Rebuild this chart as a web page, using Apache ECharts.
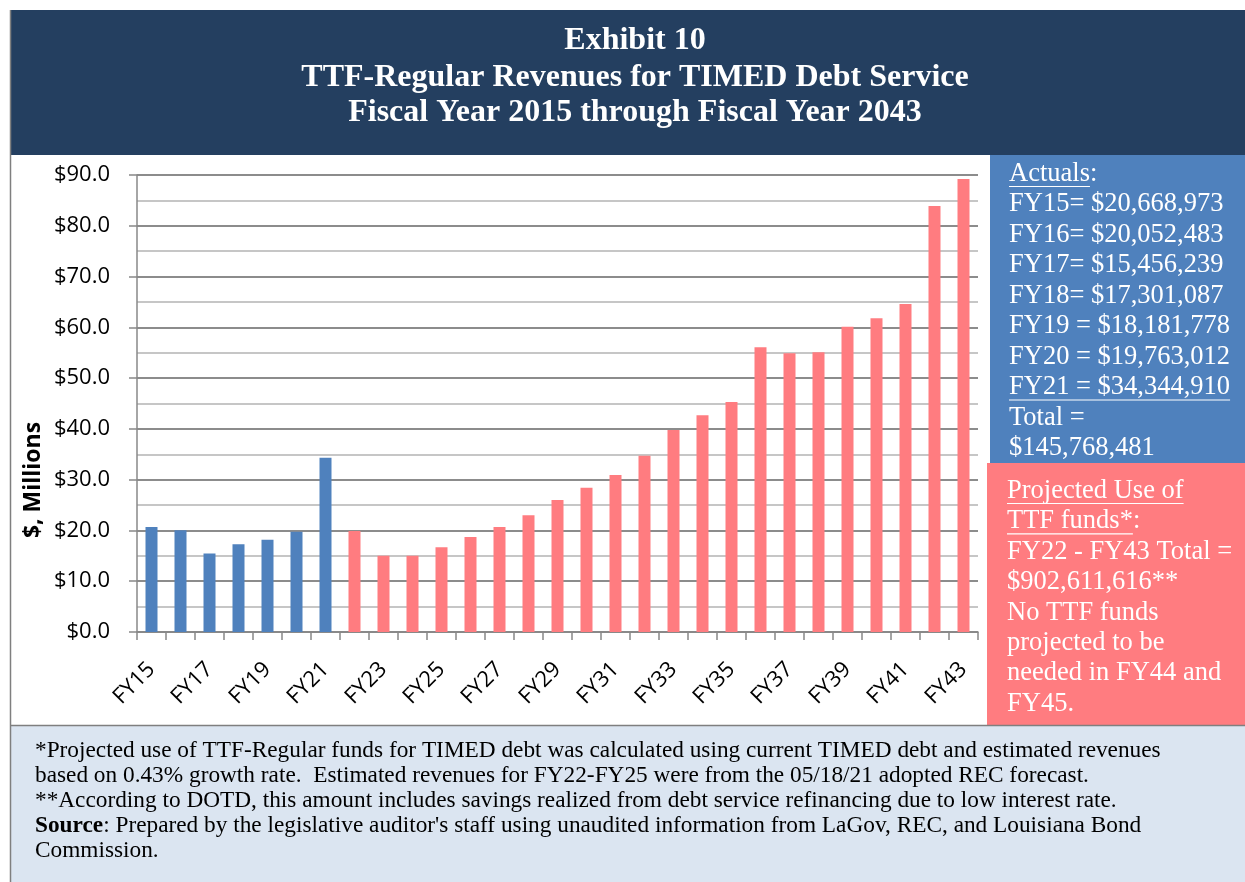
<!DOCTYPE html>
<html>
<head>
<meta charset="utf-8">
<script src="https://cdn.jsdelivr.net/npm/echarts@6/dist/echarts.min.js"></script>
<style>
  html, body { margin: 0; padding: 0; background: #fff; }
  #chart { width: 1245px; height: 882px; }
</style>
</head>
<body>
<div id="chart"></div>
<script>
// fiscal years on the x axis
const years = ['FY15','FY16','FY17','FY18','FY19','FY20','FY21','FY22','FY23','FY24','FY25','FY26','FY27','FY28','FY29',
  'FY30','FY31','FY32','FY33','FY34','FY35','FY36','FY37','FY38','FY39','FY40','FY41','FY42','FY43'];
// actuals FY15-FY21, $ millions
const actuals = [20.67, 20.05, 15.46, 17.30, 18.18, 19.76, 34.34];
// projected use FY22-FY43, $ millions
const projected = [19.9, 15.0, 15.0, 16.7, 18.7, 20.7, 23.0, 26.0, 28.4, 30.9, 34.7, 39.8, 42.7, 45.3,
  56.1, 54.9, 55.1, 60.1, 61.8, 64.6, 83.9, 89.2];
const yTicks = [0, 10, 20, 30, 40, 50, 60, 70, 80, 90];

const titleLines = ['Exhibit 10', 'TTF-Regular Revenues for TIMED Debt Service', 'Fiscal Year 2015 through Fiscal Year 2043'];
const actualLines = ['Actuals:', 'FY15= $20,668,973', 'FY16= $20,052,483', 'FY17= $15,456,239', 'FY18= $17,301,087',
  'FY19 = $18,181,778', 'FY20 = $19,763,012', 'FY21 = $34,344,910', 'Total =', '$145,768,481'];
const projLines = ['Projected Use of', 'TTF funds*:', 'FY22 - FY43 Total =', '$902,611,616**', 'No TTF funds',
  'projected to be', 'needed in FY44 and', 'FY45.'];
const noteLines = [
  '*Projected use of TTF-Regular funds for TIMED debt was calculated using current TIMED debt and estimated revenues',
  'based on 0.43% growth rate.  Estimated revenues for FY22-FY25 were from the 05/18/21 adopted REC forecast.',
  '**According to DOTD, this amount includes savings realized from debt service refinancing due to low interest rate.',
  '{b|Source}: Prepared by the legislative auditor\'s staff using unaudited information from LaGov, REC, and Louisiana Bond',
  'Commission.'
];

const BLUE = '#4F81BD';
const SALMON = '#FF7C80';
const NAVY = '#243F60';
const SERIF = '"Liberation Serif", "Times New Roman", serif';

// measure text for underlines
const mctx = document.createElement('canvas').getContext('2d');
function textWidth(str, font) {
  mctx.font = font;
  return mctx.measureText(str).width;
}

const chart = echarts.init(document.getElementById('chart'));

const graphics = [];
// title band
graphics.push({ type: 'rect', shape: { x: 10, y: 10, width: 1235, height: 145 }, style: { fill: NAVY }, z: 0 });
const titleY = [41, 78, 113];
titleLines.forEach((t, i) => {
  graphics.push({
    type: 'text', x: 635, y: titleY[i], z: 10,
    style: { text: t, fill: '#fff', font: 'bold 32px ' + SERIF, align: 'center', verticalAlign: 'middle' }
  });
});
// left border
graphics.push({ type: 'line', shape: { x1: 10.5, y1: 10, x2: 10.5, y2: 882 }, style: { stroke: '#7f7f7f', lineWidth: 1.5 }, z: 5 });

// side panels
graphics.push({ type: 'rect', shape: { x: 990, y: 155, width: 255, height: 308 }, style: { fill: BLUE }, z: 0 });
graphics.push({ type: 'rect', shape: { x: 987, y: 463, width: 258, height: 262 }, style: { fill: SALMON }, z: 0 });

const panelFont = '26.5px ' + SERIF;
actualLines.forEach((t, i) => {
  const y = 174 + i * 30.5;
  graphics.push({
    type: 'text', x: 1009, y: y, z: 10,
    style: { text: t, fill: '#fff', font: panelFont, verticalAlign: 'middle' }
  });
});
// underlines in the actuals box
[[0, 'Actuals'], [7, 'FY21 = $34,344,910']].forEach(([i, s]) => {
  const y = 174 + i * 30.5 + 12.5;
  graphics.push({
    type: 'line', z: 10,
    shape: { x1: 1009, y1: y, x2: 1009 + textWidth(s, panelFont), y2: y },
    style: { stroke: '#fff', lineWidth: 1.2 }
  });
});
projLines.forEach((t, i) => {
  const y = 491 + i * 30.4;
  graphics.push({
    type: 'text', x: 1007, y: y, z: 10,
    style: { text: t, fill: '#fff', font: panelFont, verticalAlign: 'middle' }
  });
});
[[0, 'Projected Use of'], [1, 'TTF funds*']].forEach(([i, s]) => {
  const y = 491 + i * 30.4 + 12.5;
  graphics.push({
    type: 'line', z: 10,
    shape: { x1: 1007, y1: y, x2: 1007 + textWidth(s, panelFont), y2: y },
    style: { stroke: '#fff', lineWidth: 1.2 }
  });
});

// footer
graphics.push({ type: 'rect', shape: { x: 10, y: 725, width: 1235, height: 157 }, style: { fill: '#DBE5F1' }, z: 0 });
graphics.push({ type: 'line', shape: { x1: 10, y1: 725.5, x2: 1245, y2: 725.5 }, style: { stroke: '#7f7f7f', lineWidth: 1.5 }, z: 5 });
noteLines.forEach((t, i) => {
  graphics.push({
    type: 'text', x: 35, y: 751 + i * 25, z: 10,
    style: {
      text: t, fill: '#000', font: '23.3px ' + SERIF, verticalAlign: 'middle',
      rich: { b: { fontWeight: 'bold', fontSize: 23.3, fontFamily: SERIF, fill: '#000' } }
    }
  });
});
// y axis title
graphics.push({
  type: 'text', x: 33, y: 480, rotation: Math.PI / 2, z: 10,
  style: { text: '$, Millions', fill: '#000', font: 'bold 23px "Open Sans", sans-serif', align: 'center', verticalAlign: 'middle' }
});

const blanks = n => new Array(n).fill(null);

const option = {
  animation: false,
  backgroundColor: '#fff',
  grid: { left: 137, right: 267, top: 175, bottom: 250, containLabel: false },
  xAxis: {
    type: 'category',
    data: years,
    axisLine: { lineStyle: { color: '#888', width: 1.5 } },
    axisTick: { show: true, interval: 0, length: 8, alignWithLabel: false, lineStyle: { color: '#888', width: 1.5 } },
    axisLabel: { interval: 1, rotate: 45, fontSize: 22, color: '#000', fontFamily: '"Open Sans", sans-serif', margin: 34 }
  },
  yAxis: {
    type: 'value',
    min: yTicks[0],
    max: yTicks[yTicks.length - 1],
    interval: 10,
    axisLine: { show: true, lineStyle: { color: '#888', width: 1.5 } },
    axisTick: { show: true, length: 8, lineStyle: { color: '#888', width: 1.5 } },
    axisLabel: {
      fontSize: 22, color: '#000', fontFamily: '"Open Sans", sans-serif', margin: 27,
      formatter: v => '$' + v.toFixed(1)
    },
    splitLine: { show: true, lineStyle: { color: '#8c8c8c', width: 2 } },
    minorTick: { show: false, splitNumber: 2 },
    minorSplitLine: { show: true, lineStyle: { color: '#c6c6c6', width: 2 } }
  },
  series: [
    {
      name: 'Actuals', type: 'bar', barWidth: 12, barGap: '-100%',
      itemStyle: { color: BLUE },
      data: actuals.concat(blanks(projected.length))
    },
    {
      name: 'Projected', type: 'bar', barWidth: 12,
      itemStyle: { color: SALMON },
      data: blanks(actuals.length).concat(projected)
    }
  ],
  graphic: { elements: graphics }
};

chart.setOption(option);
</script>
</body>
</html>
